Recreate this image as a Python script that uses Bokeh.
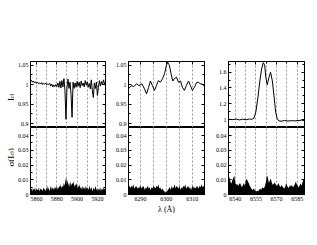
import numpy as np
from math import pi
from bokeh.plotting import figure
from bokeh.layouts import gridplot
from bokeh.models import Range1d, FixedTicker, LinearAxis, Label, CustomJSTickFormatter
from bokeh.embed import file_html
from bokeh.resources import INLINE

FONT = "Liberation Serif"

# ---------------- data ----------------
# Panel 1 (Na D region)
top1_flux = [1.008, 1.011, 1.006, 1.009, 1.004, 1.007, 1.003, 1.006, 1.002, 1.004,
             1.001, 1.005, 1.000, 1.003, 1.001, 1.004, 0.999, 1.002, 1.000, 1.003,
             0.996, 1.001, 0.994, 0.999, 0.995, 1.000, 0.995, 1.004, 0.993, 1.008,
             0.991, 1.010, 0.994, 1.015, 0.985, 0.911, 0.992, 1.014, 0.990, 1.006,
             0.975, 0.916, 1.006, 0.990, 1.004, 0.993, 1.008, 0.996, 1.006, 0.992,
             1.009, 0.997, 1.004, 0.994, 1.010, 0.998, 1.007, 0.993, 1.003, 0.989,
             1.012, 0.985, 0.967, 1.004, 0.990, 1.006, 0.972, 0.992, 1.010, 0.996,
             1.008, 0.999, 1.012, 1.002, 1.006]
sig1 = [0.004, 0.003, 0.005, 0.002, 0.004, 0.003, 0.005, 0.002, 0.004, 0.003,
        0.003, 0.005, 0.002, 0.004, 0.003, 0.004, 0.002, 0.005, 0.003, 0.004,
        0.002, 0.004, 0.006, 0.003, 0.005, 0.002, 0.004, 0.006, 0.003, 0.005,
        0.004, 0.003, 0.005, 0.004, 0.006, 0.003, 0.005, 0.004, 0.006, 0.005,
        0.007, 0.004, 0.006, 0.005, 0.008, 0.006, 0.009, 0.012, 0.007, 0.010,
        0.006, 0.008, 0.005, 0.009, 0.006, 0.008, 0.007, 0.009, 0.005, 0.007,
        0.006, 0.008, 0.004, 0.006, 0.005, 0.007, 0.004, 0.005, 0.003, 0.006,
        0.004, 0.005, 0.003, 0.006, 0.004, 0.005, 0.003, 0.004, 0.006, 0.003,
        0.005, 0.004, 0.002, 0.005, 0.003, 0.004, 0.006, 0.003, 0.004, 0.002,
        0.004, 0.003, 0.005, 0.002, 0.004, 0.003, 0.005, 0.003, 0.004, 0.006]

# Panel 2 ([O I] 6300 region)
top2_wl = [6285.3, 6286.3, 6287.4, 6288.4, 6289.4, 6290.5, 6291.5, 6292.3, 6293.1, 6293.8,
           6294.6, 6295.4, 6296.2, 6296.9, 6297.7, 6298.5, 6299.3, 6300.0, 6300.5, 6301.2,
           6301.8, 6302.5, 6303.1, 6303.9, 6304.7, 6305.5, 6306.2, 6307.0, 6307.8, 6308.6,
           6309.3, 6310.1, 6310.9, 6311.7, 6312.4, 6313.2, 6314.0, 6314.8]
top2_flux = [0.989, 0.997, 0.995, 1.002, 0.997, 1.002, 0.989, 0.976, 0.993, 1.009,
             0.997, 0.985, 0.998, 1.010, 1.006, 1.015, 1.028, 1.049, 1.057, 1.049,
             1.028, 1.009, 1.015, 1.019, 1.006, 1.009, 0.993, 0.985, 0.998, 1.009,
             0.998, 0.985, 0.993, 1.005, 1.006, 1.002, 1.001, 0.995]
sig2 = [0.005, 0.006, 0.004, 0.006, 0.005, 0.007, 0.004, 0.005, 0.006, 0.004,
        0.005, 0.004, 0.006, 0.005, 0.004, 0.006, 0.005, 0.003, 0.005, 0.004,
        0.006, 0.004, 0.005, 0.003, 0.005, 0.004, 0.006, 0.005, 0.004, 0.006,
        0.005, 0.007, 0.004, 0.005, 0.003, 0.004, 0.003, 0.002, 0.002, 0.001,
        0.002, 0.003, 0.004, 0.005, 0.003, 0.006, 0.004, 0.005, 0.007, 0.004,
        0.006, 0.005, 0.004, 0.006, 0.003, 0.005, 0.004, 0.006, 0.005, 0.007,
        0.004, 0.005, 0.006, 0.004, 0.005, 0.003, 0.005, 0.006, 0.004, 0.005,
        0.004, 0.006, 0.005, 0.004, 0.006, 0.005, 0.007, 0.005, 0.006, 0.004]

# Panel 3 (H-alpha region)
top3_wl = [6535.0, 6538.2, 6540.6, 6543.0, 6545.4, 6547.9, 6550.3, 6552.0, 6553.5, 6554.9,
           6556.4, 6557.8, 6559.1, 6560.3, 6561.3, 6562.2, 6563.2, 6564.4, 6565.6, 6566.9,
           6568.1, 6569.3, 6570.5, 6571.7, 6573.4, 6575.9, 6578.3, 6580.7, 6583.2, 6585.6,
           6588.0, 6590.3]
top3_flux = [1.004, 1.000, 1.006, 0.996, 1.006, 0.998, 1.008, 1.004, 1.017, 1.097,
             1.279, 1.490, 1.640, 1.720, 1.690, 1.530, 1.440, 1.530, 1.600, 1.490,
             1.300, 1.097, 1.010, 0.983, 0.980, 0.988, 0.982, 0.986, 0.984, 0.988,
             0.992, 0.988]
sig3 = [0.0105, 0.0118, 0.0085, 0.0075, 0.0096, 0.0112, 0.0129, 0.0080, 0.0067, 0.0072,
        0.0060, 0.0070, 0.0078, 0.0062, 0.0050, 0.0065, 0.0078, 0.0060, 0.0095, 0.0107,
        0.0090, 0.0078, 0.0060, 0.0050, 0.0038, 0.0029, 0.0040, 0.0032, 0.0025, 0.0020,
        0.0028, 0.0022, 0.0033, 0.0040, 0.0030, 0.0050, 0.0042, 0.0044, 0.0060, 0.0090,
        0.0133, 0.0110, 0.0078, 0.0095, 0.0107, 0.0080, 0.0067, 0.0072, 0.0082, 0.0070,
        0.0056, 0.0065, 0.0078, 0.0060, 0.0050, 0.0062, 0.0056, 0.0045, 0.0040, 0.0052,
        0.0078, 0.0060, 0.0044, 0.0050, 0.0062, 0.0055, 0.0067, 0.0048, 0.0058, 0.0072,
        0.0089, 0.0070, 0.0058, 0.0048, 0.0062, 0.0075, 0.0060, 0.0085, 0.0107, 0.0095]

x_ranges = [(5854, 5928), (6285.3, 6314.8), (6535, 6590.3)]
top_y_ranges = [(0.89, 1.059), (0.89, 1.059), (0.9, 1.735)]
sig_y_range = (0, 0.0455)

x_major = [[5860, 5880, 5900, 5920], [6290, 6300, 6310], [6540, 6555, 6570, 6585]]
x_minor = [[5870, 5890, 5910], [6295, 6305], [6547.5, 6562.5, 6577.5]]
x_grid = [[5860, 5870, 5880, 5890, 5900, 5910, 5920],
          [6290, 6295, 6300, 6305, 6310],
          [6540, 6547.5, 6555, 6562.5, 6570, 6577.5, 6585]]
top_y_major = [[0.9, 0.95, 1, 1.05], [0.9, 0.95, 1, 1.05], [1, 1.2, 1.4, 1.6]]
top_y_minor = [[0.925, 0.975, 1.025], [0.925, 0.975, 1.025], [1.1, 1.3, 1.5, 1.7]]
sig_y_major = [0, 0.01, 0.02, 0.03, 0.04]
sig_y_minor = [0.005, 0.015, 0.025, 0.035]

top_series = [(np.linspace(5854, 5928, len(top1_flux)), top1_flux),
              (top2_wl, top2_flux),
              (top3_wl, top3_flux)]
sig_series = [(np.linspace(5854, 5928, len(sig1)), sig1),
              (np.linspace(6285.3, 6314.8, len(sig2)), sig2),
              (np.linspace(6535, 6590.3, len(sig3)), sig3)]

# ---------------- layout ----------------
LAB_W = 14
widths = [98, 100, 96]
left_b = [13, 16, 16]
right_b = [7, 8, 4]
TOP_H, TOP_B = 127, 61
BOT_H, BOT_B = 97, 30

num_fmt = "return String(parseFloat(tick.toFixed(4)));"


def style_axis(ax, major, minor, labels=True):
    ax.ticker = FixedTicker(ticks=major, minor_ticks=minor)
    ax.major_tick_in = 3
    ax.major_tick_out = 0
    ax.minor_tick_in = 2
    ax.minor_tick_out = 0
    ax.axis_line_color = "black"
    ax.major_tick_line_color = "black"
    ax.minor_tick_line_color = "black"
    ax.major_label_text_font = FONT
    ax.major_label_text_font_size = "6px"
    ax.major_label_text_color = "black"
    ax.major_label_standoff = 2
    if labels:
        ax.formatter = CustomJSTickFormatter(code=num_fmt)
    else:
        ax.formatter = CustomJSTickFormatter(code="return '';")
        ax.major_label_standoff = 0


def base_fig(i, height, top, bottom, yr, xloc):
    p = figure(width=widths[i], height=height,
               x_range=Range1d(*x_ranges[i]), y_range=Range1d(*yr),
               output_backend="svg", toolbar_location=None,
               x_axis_location=xloc,
               min_border_left=left_b[i], min_border_right=right_b[i],
               min_border_top=top, min_border_bottom=bottom)
    p.outline_line_color = "black"
    p.outline_line_width = 1
    p.outline_line_alpha = 1
    p.background_fill_color = "white"
    p.border_fill_color = "white"
    p.xgrid.ticker = FixedTicker(ticks=x_grid[i])
    p.xgrid.grid_line_color = "#9a9a9a"
    p.xgrid.grid_line_dash = "2 2"
    p.xgrid.grid_line_width = 1
    p.ygrid.visible = False
    return p


def label_fig(height, top, bottom, yr):
    p = figure(width=LAB_W, height=height, x_range=Range1d(0, LAB_W), y_range=Range1d(*yr),
               output_backend="svg", toolbar_location=None,
               x_axis_location=None, y_axis_location=None,
               min_border_left=0, min_border_right=0,
               min_border_top=top, min_border_bottom=bottom)
    p.outline_line_color = None
    p.xgrid.visible = False
    p.ygrid.visible = False
    p.background_fill_color = "white"
    p.border_fill_color = "white"
    return p


tops, bots = [], []
for i in range(3):
    t = base_fig(i, TOP_H, TOP_B, 0, top_y_ranges[i], "above")
    style_axis(t.xaxis[0], x_major[i], x_minor[i], labels=False)
    style_axis(t.yaxis[0], top_y_major[i], top_y_minor[i], labels=True)
    ra = LinearAxis()
    style_axis(ra, top_y_major[i], top_y_minor[i], labels=False)
    t.add_layout(ra, "right")
    wl, fl = top_series[i]
    t.line(wl, fl, color="black", line_width=1)
    tops.append(t)

    b = base_fig(i, BOT_H, 0, BOT_B, sig_y_range, "below")
    style_axis(b.xaxis[0], x_major[i], x_minor[i], labels=True)
    style_axis(b.yaxis[0], sig_y_major, sig_y_minor, labels=True)
    rb = LinearAxis()
    style_axis(rb, sig_y_major, sig_y_minor, labels=False)
    b.add_layout(rb, "right")
    sw, sv = sig_series[i]
    b.varea(x=sw, y1=0, y2=sv, color="black")
    bots.append(b)

# x axis title
bots[1].xaxis[0].axis_label = "λ (Å)"
bots[1].xaxis[0].axis_label_text_font = FONT
bots[1].xaxis[0].axis_label_text_font_size = "8px"
bots[1].xaxis[0].axis_label_text_font_style = "normal"
bots[1].xaxis[0].axis_label_text_color = "black"
bots[1].xaxis[0].axis_label_standoff = 1

# y axis titles (rotated, with subscripts) in a narrow label column
lab_top = label_fig(TOP_H, TOP_B, 0, top_y_ranges[0])
lab_bot = label_fig(BOT_H, 0, BOT_B, sig_y_range)


def ylab(p, x, y, text, size, yoff):
    p.add_layout(Label(x=x, y=y, text=text, angle=pi / 2, y_offset=yoff,
                       text_font=FONT, text_font_size=size, text_color="black",
                       text_align="left", text_baseline="alphabetic"))


ylab(lab_top, 10.0, 0.958, "I", "9px", 0)
ylab(lab_top, 11.5, 0.958, "cl", "6px", 3)

ylab(lab_bot, 10.0, 0.019, "σ(I", "9px", 0)
ylab(lab_bot, 11.5, 0.019, "cl", "6px", 11)
ylab(lab_bot, 10.0, 0.019, ")", "9px", 15.5)

grid = gridplot([[lab_top] + tops, [lab_bot] + bots], toolbar_location=None)

open("out.html", "w").write(file_html(grid, INLINE))
